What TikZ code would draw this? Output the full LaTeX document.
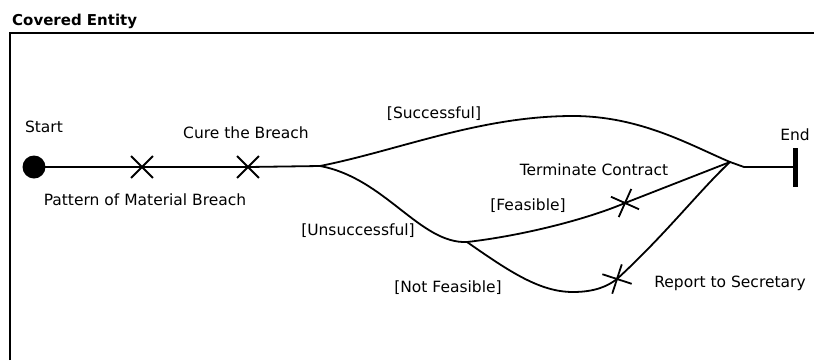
\documentclass[tikz,border=0pt]{standalone}
\usepackage{fontspec}
\setmainfont{DejaVu Sans}
\usetikzlibrary{shapes.misc}
\begin{document}
\begin{tikzpicture}[x=1pt,y=-1pt,
  flow/.style={line width=1.8pt, line join=round, line cap=round},
  lbl/.style={font=\fontsize{15.5}{18}\selectfont, anchor=base, inner sep=0pt},
  xmark/.style={cross out, draw, line width=1.8pt, minimum size=20pt, inner sep=0pt},
  framestyle/.style={line width=2pt}]
\useasboundingbox (0,0) rectangle (814,360);
% frame
\node[anchor=base west, inner sep=0pt, font=\fontsize{15}{18}\selectfont\bfseries] (title) at (12,25) {Covered Entity};
\coordinate (ftl) at (10,33);
\coordinate (ftr) at (814,33);
\coordinate (fbl) at (10,360);
\draw[framestyle] (fbl) -- (ftl) -- (ftr);
% nodes
\node[circle, fill=black, minimum size=23pt, inner sep=0pt] (start) at (34,167) {};
\node[xmark] (x1) at (142,167) {};
\node[xmark] (x2) at (248,167) {};
\coordinate (split) at (320,166);
\coordinate (merge) at (730,162);
\coordinate (low) at (467,242);
\coordinate (peak) at (573,116);
\coordinate (bottom) at (573,292);
\node[xmark, rotate=21] (xf) at (625,203) {};
\node[xmark, rotate=27] (xr) at (617,279) {};
\coordinate (pre) at (744,167);
\node[draw, fill=black, minimum width=3.5pt, minimum height=38pt, inner sep=0pt] (endbar) at (795,167) {};
% connectors
\draw[flow] (start.center) -- (x1.center) -- (x2.center) -- (split);
\draw[flow] (split) .. controls (400,150) and (480,116) .. (peak)
  .. controls (640,116) and (690,145) .. (merge);
\draw[flow] (split) .. controls (385,178) and (420,244) .. (low);
\draw[flow] (low) .. controls (520,236) and (585,220) .. (xf.center) -- (merge);
\draw[flow] (low) .. controls (510,272) and (540,292) .. (bottom)
  .. controls (595,292) and (608,286) .. (xr.center)
  .. controls (665,235) and (700,190) .. (merge);
\draw[flow] (merge) -- (pre) -- (endbar.center);
% labels
\node[lbl] (lstart) at (44,132) {Start};
\node[lbl] (lcure) at (246,138) {Cure the Breach};
\node[lbl] (lpat) at (145,205) {Pattern of Material Breach};
\node[lbl] (lsucc) at (434,118) {[Successful]};
\node[lbl] (lend) at (795,140) {End};
\node[lbl] (lterm) at (594,175) {Terminate Contract};
\node[lbl] (lfeas) at (528,210) {[Feasible]};
\node[lbl] (lunsucc) at (358,235) {[Unsuccessful]};
\node[lbl] (lnotf) at (448,292) {[Not Feasible]};
\node[lbl] (lrep) at (730,287) {Report to Secretary};
\end{tikzpicture}
\end{document}
